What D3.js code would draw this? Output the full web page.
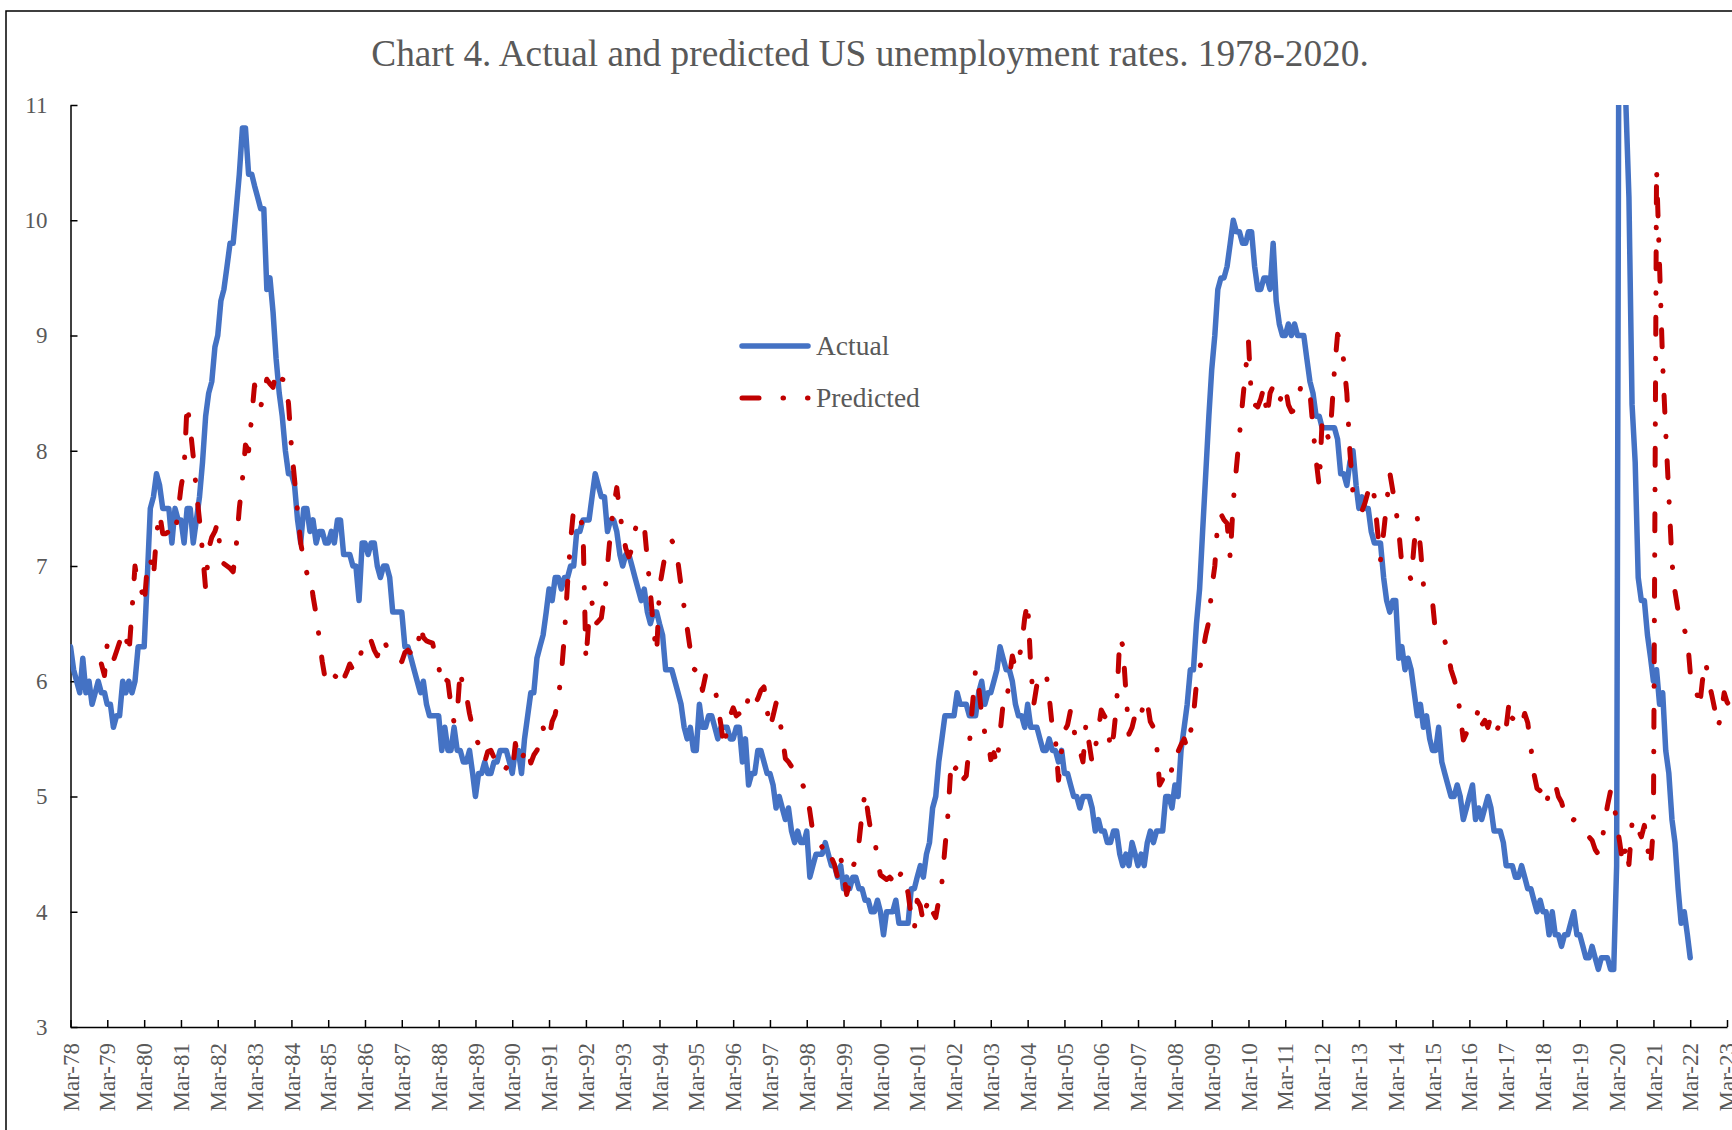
<!DOCTYPE html>
<html>
<head>
<meta charset="utf-8">
<script src="https://cdn.jsdelivr.net/npm/d3@7"></script>
<style>
  body { margin: 0; background: #ffffff; }
  svg { display: block; }
  text { font-family: "Liberation Serif", "Times New Roman", serif; fill: #595959; }
</style>
</head>
<body>
<svg id="chart" width="1732" height="1130"></svg>
<script>
const chartTitle = "Chart 4. Actual and predicted US unemployment rates. 1978-2020.";
const seriesNames = ["Actual", "Predicted"];
const seriesColors = ["#4472C4", "#C00000"];

// monthly values, first value = start month
const actualStart = "1978-03";
const actual = [
  6.3, 6.1, 6.0, 5.9, 6.2, 5.9, 6.0, 5.8, 5.9, 6.0,
  5.9, 5.9, 5.8, 5.8, 5.6, 5.7, 5.7, 6.0, 5.9, 6.0, 5.9, 6.0,
  6.3, 6.3, 6.3, 6.9, 7.5, 7.6, 7.8, 7.7, 7.5, 7.5, 7.5, 7.2,
  7.5, 7.4, 7.4, 7.2, 7.5, 7.5, 7.2, 7.4, 7.6, 7.9, 8.3, 8.5,
  8.6, 8.9, 9.0, 9.3, 9.4, 9.6, 9.8, 9.8, 10.1, 10.4, 10.8, 10.8,
  10.4, 10.4, 10.3, 10.2, 10.1, 10.1, 9.4, 9.5, 9.2, 8.8, 8.5, 8.3,
  8.0, 7.8, 7.8, 7.7, 7.4, 7.2, 7.5, 7.5, 7.3, 7.4, 7.2, 7.3,
  7.3, 7.2, 7.2, 7.3, 7.2, 7.4, 7.4, 7.1, 7.1, 7.1, 7.0, 7.0,
  6.7, 7.2, 7.2, 7.1, 7.2, 7.2, 7.0, 6.9, 7.0, 7.0, 6.9, 6.6,
  6.6, 6.6, 6.6, 6.3, 6.3, 6.2, 6.1, 6.0, 5.9, 6.0, 5.8, 5.7,
  5.7, 5.7, 5.7, 5.4, 5.6, 5.4, 5.4, 5.6, 5.4, 5.4, 5.3, 5.3,
  5.4, 5.2, 5.0, 5.2, 5.2, 5.3, 5.2, 5.2, 5.3, 5.3, 5.4, 5.4,
  5.4, 5.3, 5.2, 5.4, 5.4, 5.2, 5.5, 5.7, 5.9, 5.9, 6.2, 6.3,
  6.4, 6.6, 6.8, 6.7, 6.9, 6.9, 6.8, 6.9, 6.9, 7.0, 7.0, 7.3,
  7.3, 7.4, 7.4, 7.4, 7.6, 7.8, 7.7, 7.6, 7.6, 7.3, 7.4, 7.4,
  7.3, 7.1, 7.0, 7.1, 7.1, 7.0, 6.9, 6.8, 6.7, 6.8, 6.6, 6.5,
  6.6, 6.6, 6.5, 6.4, 6.1, 6.1, 6.1, 6.0, 5.9, 5.8, 5.6, 5.5,
  5.6, 5.4, 5.4, 5.8, 5.6, 5.6, 5.7, 5.7, 5.6, 5.5, 5.6, 5.6,
  5.6, 5.5, 5.5, 5.6, 5.6, 5.3, 5.5, 5.1, 5.2, 5.2, 5.4, 5.4,
  5.3, 5.2, 5.2, 5.1, 4.9, 5.0, 4.9, 4.8, 4.9, 4.7, 4.6, 4.7,
  4.6, 4.6, 4.7, 4.3, 4.4, 4.5, 4.5, 4.5, 4.6, 4.5, 4.4, 4.4,
  4.3, 4.4, 4.2, 4.3, 4.2, 4.3, 4.3, 4.2, 4.2, 4.1, 4.1, 4.0,
  4.0, 4.1, 4.0, 3.8, 4.0, 4.0, 4.0, 4.1, 3.9, 3.9, 3.9, 3.9,
  4.2, 4.2, 4.3, 4.4, 4.3, 4.5, 4.6, 4.9, 5.0, 5.3, 5.5, 5.7,
  5.7, 5.7, 5.7, 5.9, 5.8, 5.8, 5.8, 5.7, 5.7, 5.7, 5.9, 6.0,
  5.8, 5.9, 5.9, 6.0, 6.1, 6.3, 6.2, 6.1, 6.1, 6.0, 5.8, 5.7,
  5.7, 5.6, 5.8, 5.6, 5.6, 5.6, 5.5, 5.4, 5.4, 5.5, 5.4, 5.4,
  5.3, 5.4, 5.2, 5.2, 5.1, 5.0, 5.0, 4.9, 5.0, 5.0, 5.0, 4.9,
  4.7, 4.8, 4.7, 4.7, 4.6, 4.6, 4.7, 4.7, 4.5, 4.4, 4.5, 4.4,
  4.6, 4.5, 4.4, 4.5, 4.4, 4.6, 4.7, 4.6, 4.7, 4.7, 4.7, 5.0,
  5.0, 4.9, 5.1, 5.0, 5.4, 5.6, 5.8, 6.1, 6.1, 6.5, 6.8, 7.3,
  7.8, 8.3, 8.7, 9.0, 9.4, 9.5, 9.5, 9.6, 9.8, 10.0, 9.9, 9.9,
  9.8, 9.8, 9.9, 9.9, 9.6, 9.4, 9.4, 9.5, 9.5, 9.4, 9.8, 9.3,
  9.1, 9.0, 9.0, 9.1, 9.0, 9.1, 9.0, 9.0, 9.0, 8.8, 8.6, 8.5,
  8.3, 8.3, 8.2, 8.2, 8.2, 8.2, 8.2, 8.1, 7.8, 7.8, 7.7, 7.9,
  8.0, 7.7, 7.5, 7.6, 7.5, 7.5, 7.3, 7.2, 7.2, 7.2, 6.9, 6.7,
  6.6, 6.7, 6.7, 6.2, 6.3, 6.1, 6.2, 6.1, 5.9, 5.7, 5.8, 5.6,
  5.7, 5.5, 5.4, 5.4, 5.6, 5.3, 5.2, 5.1, 5.0, 5.0, 5.1, 5.0,
  4.8, 4.9, 5.0, 5.1, 4.8, 4.9, 4.8, 4.9, 5.0, 4.9, 4.7, 4.7,
  4.7, 4.6, 4.4, 4.4, 4.4, 4.3, 4.3, 4.4, 4.3, 4.2, 4.2, 4.1,
  4.0, 4.1, 4.0, 4.0, 3.8, 4.0, 3.8, 3.8, 3.7, 3.8, 3.8, 3.9,
  4.0, 3.8, 3.8, 3.7, 3.6, 3.6, 3.7, 3.6, 3.5, 3.6, 3.6, 3.6,
  3.5, 3.5, 4.4, 14.7, 13.2, 11.0, 10.2, 8.4, 7.9, 6.9, 6.7, 6.7,
  6.4, 6.2, 6.0, 6.1, 5.8, 5.9, 5.4, 5.2, 4.8, 4.6, 4.2, 3.9,
  4.0, 3.8, 3.6
];

const predictedStart = "1979-01";
const predicted = [
  6.15, 6.05, 6.33, 6.20, 6.18, 6.26, 6.34, 6.30, 6.40, 6.23, 6.61, 7.00,
  6.82, 6.81, 6.66, 7.00, 7.07, 6.90, 7.27, 7.46, 7.28, 7.28, 7.30, 7.25,
  7.28, 7.47, 7.68, 7.84, 8.41, 8.20, 7.95, 7.65, 7.40, 7.12, 6.80, 7.15,
  7.25, 7.30, 7.38, 7.05, 7.02, 7.00, 6.98, 6.95, 7.18, 7.50, 7.75, 8.05,
  8.00, 8.30, 8.57, 8.42, 8.38, 8.50, 8.62, 8.58, 8.55, 8.70, 8.68, 8.62,
  8.61, 8.41, 8.04, 7.75, 7.47, 7.20, 7.05, 6.94, 6.95, 6.74, 6.58, 6.38,
  6.17, 6.01, 6.06, 6.02, 6.05, 6.03, 6.10, 6.02, 6.08, 6.15, 6.10, 6.18,
  6.17, 6.29, 6.25, 6.30, 6.35, 6.27, 6.22, 6.28, 6.37, 6.30, 6.24, 6.22,
  6.20, 6.20, 6.17, 6.25, 6.27, 6.24, 6.22, 6.24, 6.49, 6.38, 6.35, 6.34,
  6.33, 6.20, 6.13, 5.97, 6.02, 6.00, 5.79, 5.64, 5.72, 6.10, 5.92, 5.88,
  5.72, 5.60, 5.52, 5.45, 5.35, 5.30, 5.39, 5.40, 5.34, 5.30, 5.25, 5.21,
  5.25, 5.22, 5.20, 5.46, 5.32, 5.30, 5.40, 5.43, 5.29, 5.36, 5.40, 5.46,
  5.60, 5.50, 5.51, 5.65, 5.71, 5.86, 6.06, 6.40, 6.85, 7.22, 7.50, 7.45,
  7.43, 7.33, 6.18, 6.55, 6.68, 6.49, 6.52, 6.55, 6.74, 7.00, 7.31, 7.51,
  7.68, 7.46, 7.30, 7.15, 7.08, 7.15, 7.31, 7.40, 7.38, 7.35, 7.05, 6.77,
  6.45, 6.24, 6.81, 6.97, 7.12, 7.19, 7.22, 7.18, 7.03, 6.83, 6.64, 6.46,
  6.27, 6.11, 6.09, 6.10, 5.92, 6.05, 6.00, 5.99, 5.95, 5.79, 5.62, 5.42,
  5.60, 5.70, 5.77, 5.70, 5.72, 5.76, 5.72, 5.88, 5.80, 5.80, 5.85, 5.92,
  5.95, 5.75, 5.59, 5.70, 5.81, 5.69, 5.53, 5.33, 5.30, 5.26, 5.20, 5.14,
  5.13, 5.08, 5.06, 4.87, 4.69, 4.65, 4.60, 4.56, 4.50, 4.54, 4.47, 4.41,
  4.30, 4.47, 4.34, 4.15, 4.25, 4.39, 4.45, 4.60, 4.85, 5.04, 4.84, 4.68,
  4.65, 4.45, 4.32, 4.30, 4.28, 4.30, 4.27, 4.36, 4.30, 4.35, 4.27, 4.16,
  3.95, 3.85, 4.10, 4.05, 3.91, 4.05, 4.12, 4.00, 3.95, 4.10, 4.25, 4.55,
  4.85, 5.30, 5.23, 5.26, 5.12, 5.15, 5.18, 5.45, 5.80, 6.10, 5.95, 5.71,
  5.55, 5.50, 5.32, 5.38, 5.27, 5.55, 5.80, 5.78, 6.03, 6.22, 6.11, 6.18,
  6.31, 6.55, 6.69, 6.12, 5.80, 5.97, 6.05, 6.07, 6.07, 5.86, 5.60, 5.51,
  5.14, 5.40, 5.57, 5.62, 5.75, 5.59, 5.45, 5.40, 5.30, 5.64, 5.46, 5.29,
  5.42, 5.58, 5.75, 5.70, 5.66, 5.40, 5.53, 5.80, 6.38, 6.31, 5.91, 5.54,
  5.60, 5.71, 5.65, 5.70, 5.85, 5.82, 5.65, 5.60, 5.46, 5.10, 5.15, 5.12,
  5.10, 5.25, 5.40, 5.39, 5.45, 5.50, 5.42, 5.55, 5.70, 5.98, 6.10, 6.25,
  6.40, 6.52, 6.80, 7.00, 7.40, 7.45, 7.40, 7.37, 7.07, 7.56, 7.85, 8.13,
  8.42, 8.70, 8.95, 8.42, 8.40, 8.38, 8.45, 8.55, 8.29, 8.50, 8.56, 8.45,
  8.42, 8.50, 8.56, 8.40, 8.34, 8.35, 8.45, 8.55, 8.58, 8.52, 8.50, 8.20,
  7.92, 7.69, 8.27, 8.20, 8.11, 8.30, 8.70, 9.01, 8.95, 8.78, 8.50, 8.00,
  7.63, 7.58, 7.52, 7.48, 7.55, 7.65, 7.72, 7.60, 7.31, 7.05, 7.29, 7.54,
  7.81, 7.65, 7.50, 7.30, 7.01, 6.98, 6.95, 6.88, 7.20, 7.42, 7.16, 6.84,
  6.80, 6.75, 6.69, 6.41, 6.40, 6.38, 6.35, 6.25, 6.10, 6.02, 5.92, 5.71,
  5.49, 5.55, 5.60, 5.64, 5.66, 5.77, 5.62, 5.66, 5.60, 5.70, 5.68, 5.58,
  5.64, 5.56, 5.60, 5.83, 5.68, 5.66, 5.60, 5.62, 5.72, 5.64, 5.43, 5.20,
  5.07, 5.05, 4.95, 4.92, 5.05, 5.05, 5.11, 5.00, 4.95, 4.86, 4.80, 4.77,
  4.80, 4.78, 4.75, 4.72, 4.69, 4.65, 4.62, 4.54, 4.50, 4.55, 4.77, 4.92,
  5.05, 4.96, 4.77, 4.60, 4.41, 4.58, 4.41, 4.77, 4.81, 4.71, 4.65, 4.75,
  4.56, 4.39, 4.75, 10.45, 9.60, 8.75, 8.16, 7.61, 7.03, 6.78, 6.61, 6.55,
  6.45, 6.37, 6.08, 6.00, 5.92, 5.77, 6.01, 6.17, 6.00, 5.88, 5.75, 5.60,
  5.70, 5.90, 5.82, 5.78
];

const yTicks = [3, 4, 5, 6, 7, 8, 9, 10, 11];
const xFirstTick = "1978-03";
const xLastTick = "2023-03";

const parseMonth = d3.timeParse("%Y-%m");

function toPoints(start, values) {
  const t0 = parseMonth(start);
  return values.map((v, i) => ({ date: d3.timeMonth.offset(t0, i), value: v }));
}

const actualPts = toPoints(actualStart, actual);
const predictedPts = toPoints(predictedStart, predicted);

const svg = d3.select("#chart");

// plot area
const plotLeft = 70.5, plotRight = 1727, plotTop = 105, plotBottom = 1027;

const x = d3.scaleTime()
  .domain([parseMonth(xFirstTick), parseMonth(xLastTick)])
  .range([plotLeft, plotRight]);

const y = d3.scaleLinear()
  .domain([3, 11])
  .range([plotBottom, plotTop]);

// outer frame (cut by the picture edge on the right and bottom)
svg.append("rect")
  .attr("x", 6).attr("y", 11)
  .attr("width", 1800).attr("height", 1200)
  .attr("fill", "none")
  .attr("stroke", "#000")
  .attr("stroke-width", 1.5);

svg.append("text")
  .attr("x", 870).attr("y", 66)
  .attr("text-anchor", "middle")
  .style("font-size", "37.3px")
  .text(chartTitle);

svg.append("clipPath").attr("id", "plot-clip")
  .append("rect")
  .attr("x", plotLeft).attr("y", plotTop)
  .attr("width", 1732 - plotLeft).attr("height", plotBottom - plotTop);

// y axis
const yAxis = svg.append("g")
  .attr("transform", `translate(${plotLeft},0)`)
  .call(d3.axisLeft(y).tickValues(yTicks).tickSizeInner(-7).tickSizeOuter(0).tickPadding(23));
yAxis.selectAll("text").style("font-size", "23px").attr("fill", "#595959");

// x axis, one tick each March
const xTicks = d3.timeYear.range(parseMonth("1978-01"), parseMonth("2024-01"))
  .map(d => d3.timeMonth.offset(d, 2));
const xAxis = svg.append("g")
  .attr("transform", `translate(0,${plotBottom})`)
  .call(d3.axisBottom(x).tickValues(xTicks).tickFormat(d3.timeFormat("%b-%y"))
    .tickSizeInner(-7).tickSizeOuter(0));
xAxis.selectAll("text")
  .style("font-size", "23px")
  .attr("fill", "#595959")
  .attr("text-anchor", "end")
  .attr("transform", "rotate(-90)")
  .attr("x", -16)
  .attr("y", 0)
  .attr("dy", "0.33em");

svg.selectAll(".domain, .tick line").attr("stroke", "#000").attr("stroke-width", 1.5);

const line = d3.line().x(d => x(d.date)).y(d => y(d.value));

const plot = svg.append("g").attr("clip-path", "url(#plot-clip)");

plot.append("path")
  .datum(actualPts)
  .attr("d", line)
  .attr("fill", "none")
  .attr("stroke", seriesColors[0])
  .attr("stroke-width", 5.5)
  .attr("stroke-linejoin", "round")
  .attr("stroke-linecap", "round");

plot.append("path")
  .datum(predictedPts)
  .attr("d", line)
  .attr("fill", "none")
  .attr("stroke", seriesColors[1])
  .attr("stroke-width", 5)
  .attr("stroke-linejoin", "round")
  .attr("stroke-linecap", "round")
  .attr("stroke-dasharray", "17 24 0.5 24");

// legend
const legend = svg.append("g");
const legendY = [346, 398];
seriesNames.forEach((name, i) => {
  legend.append("line")
    .attr("x1", 742).attr("x2", 808)
    .attr("y1", legendY[i]).attr("y2", legendY[i])
    .attr("stroke", seriesColors[i])
    .attr("stroke-width", i === 0 ? 5.5 : 5)
    .attr("stroke-linecap", "round")
    .attr("stroke-dasharray", i === 0 ? null : "17 24 0.5 24");
  legend.append("text")
    .attr("x", 816).attr("y", legendY[i] + 9)
    .style("font-size", "27.5px")
    .text(name);
});
</script>
</body>
</html>
